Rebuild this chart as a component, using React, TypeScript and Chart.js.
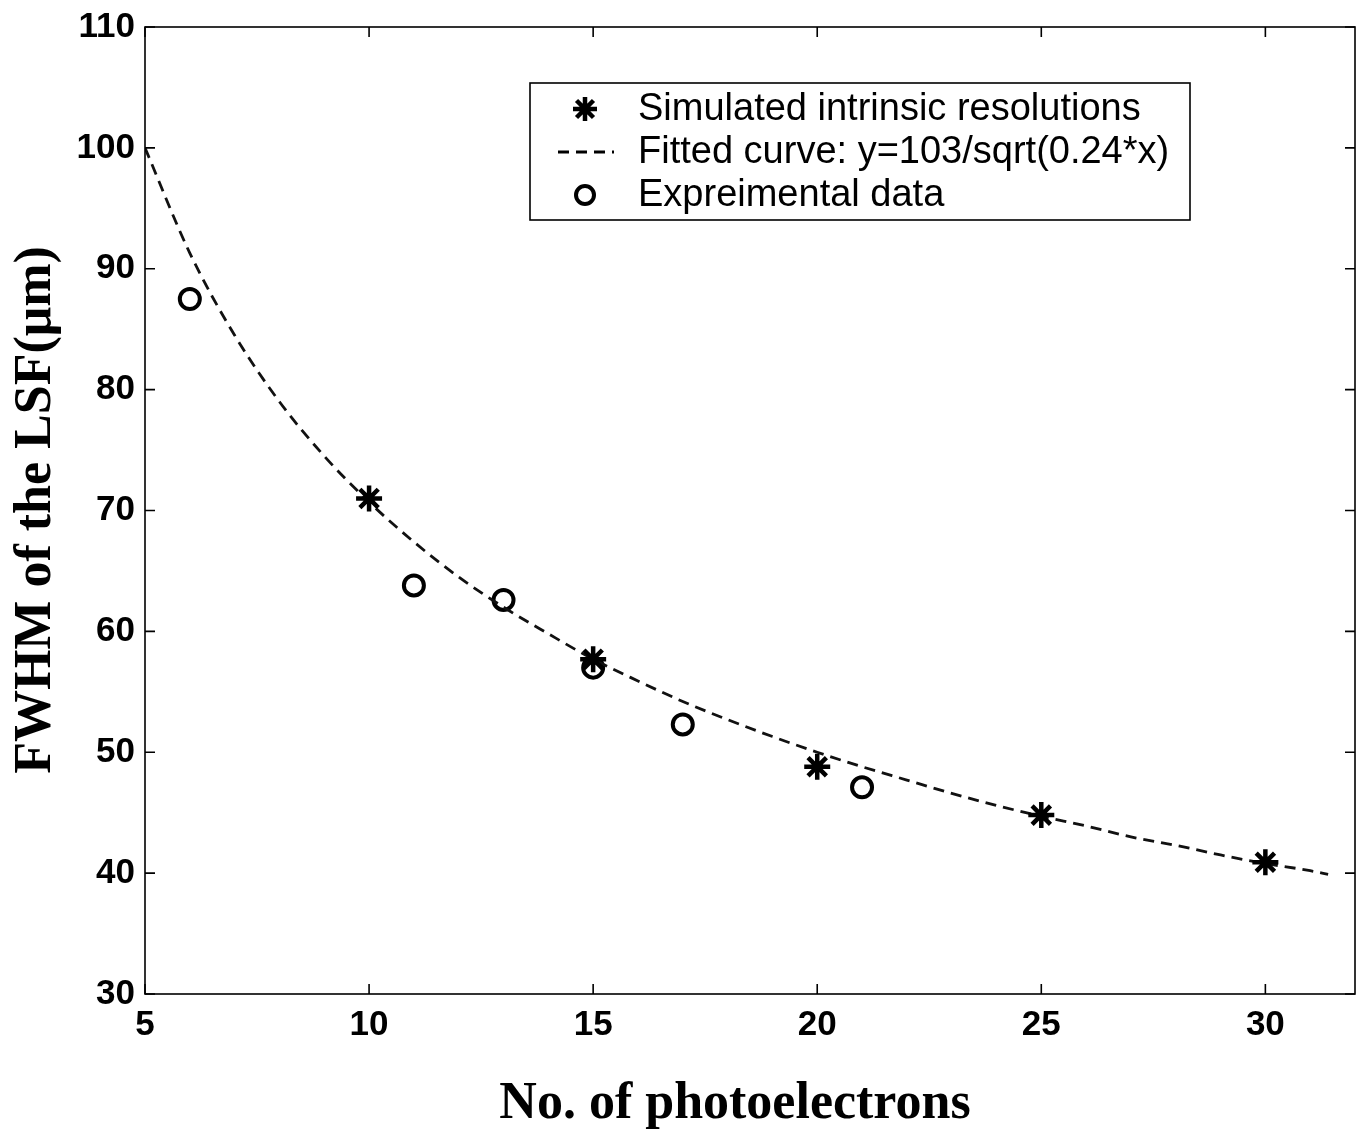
import React, { useEffect, useRef } from "react";
import { Chart, registerables } from "chart.js";

Chart.register(...registerables);

// Simulated intrinsic resolutions (asterisks)
const simX = [10, 15, 20, 25, 30];
const simY = [71.0, 57.7, 48.8, 44.8, 40.9];

// Experimental data (open circles)
const expX = [6, 11, 13, 15, 17, 21];
const expY = [87.5, 63.8, 62.6, 57.0, 52.3, 47.1];

// Fitted curve
const fitX = [5, 6, 7, 8, 9, 10, 11, 12, 13, 14, 15, 16, 17, 18, 19, 20, 21, 22, 23, 24, 25, 26, 27, 28, 29, 30, 31, 31.4];
const fitY = [100, 91.3, 84.5, 79.0, 74.5, 70.7, 67.4, 64.5, 62.0, 59.8, 57.7, 55.9, 54.2, 52.7, 51.3, 50.0, 48.8, 47.7, 46.6, 45.6, 44.7, 43.9, 43.0, 42.3, 41.5, 40.8, 40.2, 39.9];

const xTicks = [5, 10, 15, 20, 25, 30];
const yTicks = [30, 40, 50, 60, 70, 80, 90, 100, 110];

const xTitle = "No. of photoelectrons";
const yTitle = "FWHM of the LSF(\u03bcm)";
const legendLabels = [
  "Simulated intrinsic resolutions",
  "Fitted curve: y=103/sqrt(0.24*x)",
  "Expreimental data",
];

const W = 1363;
const H = 1136;

function drawAsterisk(ctx: CanvasRenderingContext2D, cx: number, cy: number, r: number) {
  ctx.beginPath();
  for (let i = 0; i < 4; i++) {
    const a = (i * Math.PI) / 4;
    ctx.moveTo(cx - r * Math.cos(a), cy - r * Math.sin(a));
    ctx.lineTo(cx + r * Math.cos(a), cy + r * Math.sin(a));
  }
  ctx.stroke();
}

const framePlugin = {
  id: "frameAndLegend",
  afterDraw(chart: any) {
    const { ctx, chartArea } = chart;
    const { left, right, top, bottom } = chartArea;
    const xs = chart.scales.x;
    const ys = chart.scales.y;
    ctx.save();
    ctx.strokeStyle = "#000";
    ctx.lineWidth = 1.6;
    ctx.setLineDash([]);
    ctx.strokeRect(left, top, right - left, bottom - top);
    const L = 10;
    ctx.beginPath();
    for (const v of xTicks) {
      const px = xs.getPixelForValue(v);
      ctx.moveTo(px, bottom);
      ctx.lineTo(px, bottom - L);
      ctx.moveTo(px, top);
      ctx.lineTo(px, top + L);
    }
    for (const v of yTicks) {
      const py = ys.getPixelForValue(v);
      ctx.moveTo(left, py);
      ctx.lineTo(left + L, py);
      ctx.moveTo(right, py);
      ctx.lineTo(right - L, py);
    }
    ctx.stroke();

    // axis titles
    ctx.fillStyle = "#000";
    ctx.font = "bold 52px 'Liberation Serif', 'Times New Roman', serif";
    ctx.textAlign = "center";
    ctx.textBaseline = "middle";
    ctx.fillText(xTitle, 735, 1105);
    ctx.save();
    ctx.translate(37, 510);
    ctx.rotate(-Math.PI / 2);
    ctx.fillText(yTitle, 0, 0);
    ctx.restore();

    // legend
    const bx = 530, by = 83, bw = 660, bh = 137;
    ctx.fillStyle = "#fff";
    ctx.fillRect(bx, by, bw, bh);
    ctx.lineWidth = 1.6;
    ctx.strokeRect(bx, by, bw, bh);
    const rows = [109, 152, 195];
    const mx = 585;
    ctx.lineWidth = 4.5;
    drawAsterisk(ctx, mx, rows[0], 12);
    ctx.lineWidth = 2.8;
    ctx.setLineDash([11, 7]);
    ctx.beginPath();
    ctx.moveTo(558, rows[1]);
    ctx.lineTo(614, rows[1]);
    ctx.stroke();
    ctx.setLineDash([]);
    ctx.lineWidth = 4;
    ctx.beginPath();
    ctx.arc(mx, rows[2], 9, 0, Math.PI * 2);
    ctx.stroke();
    ctx.fillStyle = "#000";
    ctx.font = "38px 'Liberation Sans', Arial, sans-serif";
    ctx.textAlign = "left";
    ctx.textBaseline = "middle";
    legendLabels.forEach((t, i) => ctx.fillText(t, 638, rows[i] + 1));
    ctx.restore();
  },
};

export default function App() {
  const ref = useRef<HTMLCanvasElement | null>(null);
  useEffect(() => {
    document.body.style.margin = "0";
    const canvas = ref.current;
    if (!canvas) return;
    const tickFont = { family: "'Liberation Sans', Arial, sans-serif", size: 35, weight: "bold" as const };
    const chart = new Chart(canvas, {
      type: "scatter",
      data: {
        datasets: [
          {
            label: legendLabels[0],
            data: simX.map((x, i) => ({ x, y: simY[i] })),
            pointStyle: "star",
            pointRadius: 13,
            pointBorderWidth: 4.5,
            borderColor: "#000",
            backgroundColor: "#000",
            showLine: false,
          },
          {
            label: legendLabels[1],
            type: "line",
            data: fitX.map((x, i) => ({ x, y: fitY[i] })),
            borderColor: "#111",
            borderWidth: 2.8,
            borderDash: [11, 7],
            pointRadius: 0,
            cubicInterpolationMode: "monotone",
            fill: false,
          } as any,
          {
            label: legendLabels[2],
            data: expX.map((x, i) => ({ x, y: expY[i] })),
            pointStyle: "circle",
            pointRadius: 10,
            pointBorderWidth: 4,
            borderColor: "#000",
            backgroundColor: "rgba(0,0,0,0)",
            showLine: false,
          },
        ],
      },
      options: {
        animation: false,
        responsive: false,
        layout: { autoPadding: false, padding: { top: 27, right: 8, left: 0, bottom: 0 } },
        plugins: { legend: { display: false }, tooltip: { enabled: false } },
        scales: {
          x: {
            type: "linear",
            min: 5,
            max: 32,
            afterBuildTicks: (s: any) => {
              s.ticks = xTicks.map((v) => ({ value: v }));
            },
            afterFit: (s: any) => {
              s.height = 142;
              s.paddingLeft = 0;
              s.paddingRight = 0;
            },
            grid: { display: false, drawTicks: false },
            border: { display: false },
            ticks: {
              padding: 10,
              color: "#000",
              maxRotation: 0,
              font: tickFont,
            },
          },
          y: {
            type: "linear",
            min: 30,
            max: 110,
            afterBuildTicks: (s: any) => {
              s.ticks = yTicks.map((v) => ({ value: v }));
            },
            afterFit: (s: any) => {
              s.width = 145;
              s.paddingTop = 0;
              s.paddingBottom = 0;
            },
            grid: { display: false, drawTicks: false },
            border: { display: false },
            ticks: {
              padding: 10,
              color: "#000",
              font: tickFont,
            },
          },
        },
      },
      plugins: [framePlugin],
    });
    return () => chart.destroy();
  }, []);
  return (
    <div style={{ position: "absolute", left: 0, top: 0, width: W, height: H, background: "#fff" }}>
      <canvas ref={ref} width={W} height={H} style={{ display: "block" }} />
    </div>
  );
}
